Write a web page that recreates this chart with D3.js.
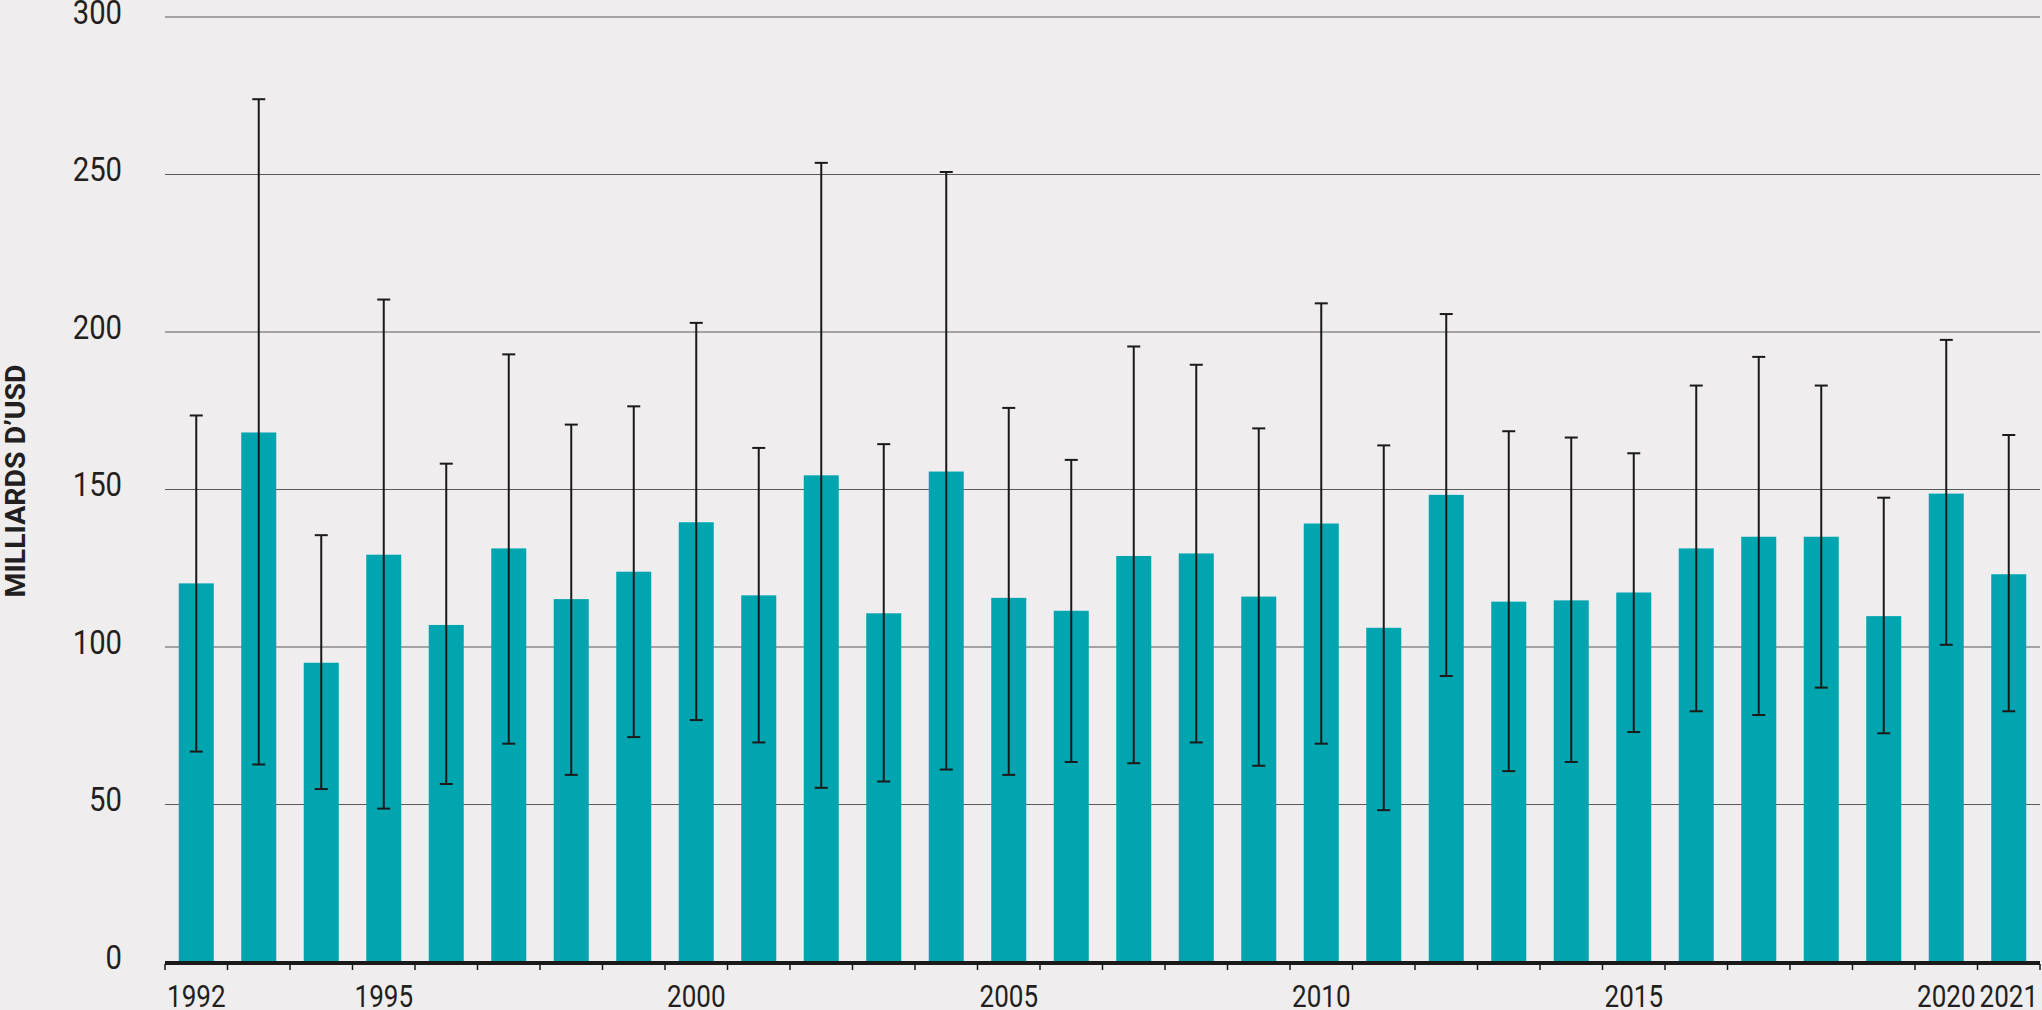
<!DOCTYPE html>
<html>
<head>
<meta charset="utf-8">
<script src="https://cdn.jsdelivr.net/npm/d3@7"></script>
<style>
  html, body { margin: 0; padding: 0; background: #efedee; }
  svg { display: block; }
  text { font-family: Roboto, "Noto Sans", sans-serif; fill: #231f20; }
</style>
</head>
<body>
<svg id="chart" width="2042" height="1010"></svg>
<script>
const years = [1992,1993,1994,1995,1996,1997,1998,1999,2000,2001,2002,2003,2004,2005,2006,2007,2008,2009,2010,2011,2012,2013,2014,2015,2016,2017,2018,2019,2020,2021];
const values = [120.2,168.1,95.0,129.3,107.0,131.3,115.2,123.9,139.6,116.4,154.5,110.7,155.7,115.6,111.5,128.9,129.7,116.0,139.2,106.1,148.3,114.4,114.8,117.3,131.3,135.0,135.0,109.8,148.7,123.1];
const errHigh = [173.5,273.9,135.5,210.3,158.2,192.9,170.6,176.4,202.9,163.2,253.7,164.4,250.8,175.9,159.4,195.4,189.6,169.4,209.1,164.0,205.7,168.5,166.5,161.5,183.0,192.1,183.0,147.4,197.5,167.3];
const errLow = [66.8,62.7,54.9,48.7,56.5,69.3,59.4,71.4,76.8,69.7,55.3,57.3,61.1,59.4,63.5,63.1,69.7,62.3,69.3,48.2,90.8,60.6,63.5,73.0,79.6,78.4,87.1,72.6,100.7,79.6];
const yTicks = [0,50,100,150,200,250,300];
const xLabels = [1992,1995,2000,2005,2010,2015,2020,2021];
const yTitle = "MILLIARDS D\u2019USD";

(function () {
const svg = d3.select("#chart");
const mLeft = 165, mRight = 2040, mTop = 17, mBottom = 962;
const sx = 0.84;

const x = d3.scaleBand().domain(years).range([mLeft, mRight]).paddingInner(0.44).paddingOuter(0.22);
const xb = d3.scaleBand().domain(years).range([mLeft, mRight]).padding(0);
const y = d3.scaleLinear().domain([0, 300]).range([mBottom, mTop]);

// gridlines
svg.append("g").selectAll("line").data(yTicks.filter(d => d > 0)).join("line")
  .attr("x1", mLeft).attr("x2", mRight)
  .attr("y1", d => y(d)).attr("y2", d => y(d))
  .attr("stroke", "#5a5a5a").attr("stroke-width", 1.2);

// y labels
svg.append("g").selectAll("text").data(yTicks).join("text")
  .attr("transform", d => `translate(122,${y(d) + 6.5}) scale(0.9,1)`)
  .attr("text-anchor", "end")
  .style("font-size", "32.5px")
  .text(d => d);

// bars
svg.append("g").selectAll("rect").data(years).join("rect")
  .attr("x", d => x(d)).attr("width", x.bandwidth())
  .attr("y", (d, i) => y(values[i]))
  .attr("height", (d, i) => y(0) - y(values[i]))
  .attr("fill", "#00a5b0");

// error bars
const eg = svg.append("g").attr("stroke", "#1a1a1a").attr("stroke-width", 2);
const cx = d => x(d) + x.bandwidth() / 2;
eg.selectAll("line.v").data(years).join("line").attr("class", "v")
  .attr("x1", cx).attr("x2", cx)
  .attr("y1", (d, i) => y(errLow[i])).attr("y2", (d, i) => y(errHigh[i]));
eg.selectAll("line.t").data(years).join("line").attr("class", "t")
  .attr("x1", d => cx(d) - 6.5).attr("x2", d => cx(d) + 6.5)
  .attr("y1", (d, i) => y(errHigh[i])).attr("y2", (d, i) => y(errHigh[i]));
eg.selectAll("line.b").data(years).join("line").attr("class", "b")
  .attr("x1", d => cx(d) - 6.5).attr("x2", d => cx(d) + 6.5)
  .attr("y1", (d, i) => y(errLow[i])).attr("y2", (d, i) => y(errLow[i]));

// x axis line
svg.append("line").attr("x1", mLeft).attr("x2", mRight).attr("y1", mBottom + 1).attr("y2", mBottom + 1)
  .attr("stroke", "#1a1a1a").attr("stroke-width", 4);

// tick marks at band boundaries
const bounds = years.map(d => xb(d)).concat([mRight]);
svg.append("g").selectAll("line").data(bounds).join("line")
  .attr("x1", d => d).attr("x2", d => d)
  .attr("y1", mBottom + 2).attr("y2", mBottom + 8)
  .attr("stroke", "#1a1a1a").attr("stroke-width", 1.5);

// x labels
svg.append("g").selectAll("text").data(xLabels).join("text")
  .attr("transform", d => `translate(${x(d) + x.bandwidth() / 2},1007) scale(${sx},1)`)
  .attr("text-anchor", "middle")
  .style("font-size", "31px")
  .text(d => d);

// y title
svg.append("text")
  .attr("transform", "translate(25,481) rotate(-90)")
  .attr("text-anchor", "middle")
  .attr("textLength", 233).attr("lengthAdjust", "spacingAndGlyphs")
  .style("font-size", "28px").style("font-weight", "bold")
  .text(yTitle);
})();
</script>
</body>
</html>
